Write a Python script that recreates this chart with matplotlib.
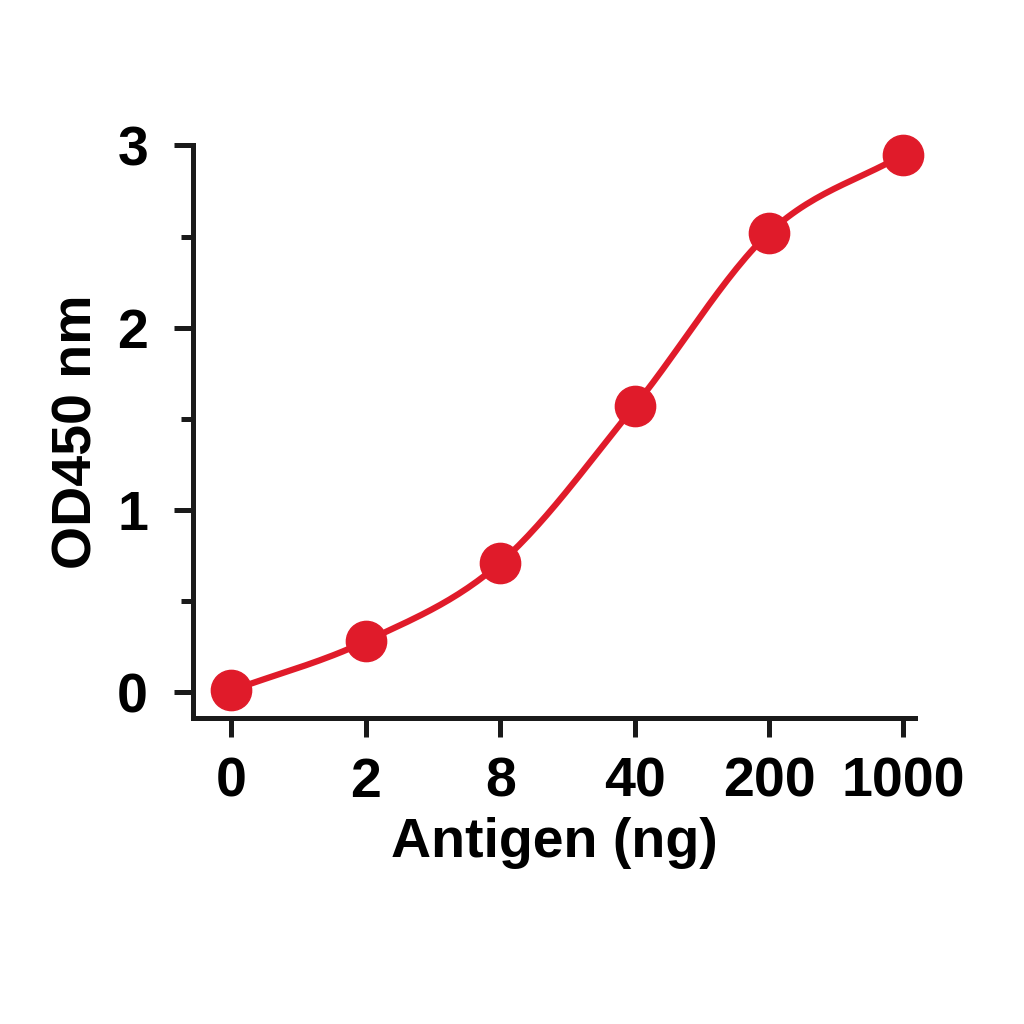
import numpy as np
import matplotlib
matplotlib.use("Agg")
import matplotlib.pyplot as plt

labels = ["0", "2", "8", "40", "200", "1000"]
od = [0.01, 0.28, 0.71, 1.57, 2.52, 2.95]

plt.rcParams['font.family'] = ['Liberation Sans', 'DejaVu Sans']
fig = plt.figure(figsize=(10.24, 10.24), dpi=100)
ax = fig.add_axes([0.188, 0.299, 0.706, 0.559])
x = np.arange(len(od))
y = np.array(od)

# smooth drawing curve through points (Catmull-Rom)
P = np.vstack([x, y]).T
P = np.vstack([2*P[0]-P[1], P, 2*P[-1]-P[-2]])
curve = []
for i in range(1, len(P)-2):
    p0, p1, p2, p3 = P[i-1], P[i], P[i+1], P[i+2]
    for t in np.linspace(0, 1, 30):
        c = 0.5*((2*p1) + (-p0+p2)*t + (2*p0-5*p1+4*p2-p3)*t**2 + (-p0+3*p1-3*p2+p3)*t**3)
        curve.append(c)
curve = np.array(curve)
red = '#e01b2a'
ax.plot(curve[:, 0], curve[:, 1], color=red, lw=4.5, solid_capstyle='round', zorder=3)
ax.plot(x, y, 'o', color=red, ms=29, zorder=4, clip_on=False)

ax.set_xlim(-0.29, 5.09)
ax.set_ylim(-0.14, 3)
ax.set_xticks(x)
ax.set_xticklabels(labels)
ax.set_yticks([0, 1, 2, 3])
ax.set_yticks([0.5, 1.5, 2.5], minor=True)
for s in ['top', 'right']:
    ax.spines[s].set_visible(False)
for s in ['left', 'bottom']:
    ax.spines[s].set_linewidth(3.6)
    ax.spines[s].set_color('#1a1a1a')
ax.tick_params(axis='both', which='both', width=3.6, length=14, color='#1a1a1a',
               labelsize=40, pad=14)
ax.tick_params(axis='y', which='minor', length=9)
ax.tick_params(axis='y', pad=18)
for lab in ax.get_xticklabels() + ax.get_yticklabels():
    lab.set_fontweight('bold')
ax.set_xlabel('Antigen (ng)', fontsize=40, fontweight='bold', labelpad=6)
ax.set_ylabel('OD450 nm', fontsize=40, fontweight='bold', labelpad=10)
fig.savefig('out.png', dpi=100)
